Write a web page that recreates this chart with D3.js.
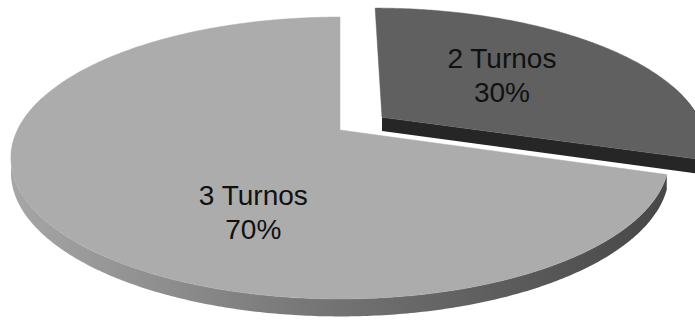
<!DOCTYPE html>
<html>
<head>
<meta charset="utf-8">
<script src="https://cdn.jsdelivr.net/npm/d3@7"></script>
<style>
  html, body { margin: 0; padding: 0; background: #ffffff; }
  svg { display: block; }
</style>
</head>
<body>
<svg id="chart" width="695" height="320"></svg>
<script>
// Shift distribution
const categories = ["2 Turnos", "3 Turnos"];
const values = [30, 70];
const percentLabels = ["30%", "70%"];

const width = 695, height = 320;

// 3D pie geometry (perspective view of a flat disc)
const cx = 340, cy = 130;     // screen position of the disc centre
const rx = 322.5;             // horizontal radius at the centre depth
const ry = 135.4;             // vertical foreshortened radius
const persp = 0.1986;         // perspective strength (front larger than back)
const depth = 14;             // disc thickness in px at centre depth
const explode = 0.164;        // pull-out distance of exploded slice (fraction of radius)

const topColors = ["#606060", "#acacac"];
const faceColors = ["#262626", "#5a5a5a"];
const explodeFlags = [true, false];
// label anchors: angle (deg, clockwise from 12 o'clock) and radius fraction inside each slice
const labelAnchors = [{ angle: 50, r: 0.54 }, { angle: 204, r: 0.59 }];

const svg = d3.select("#chart");
const defs = svg.append("defs");

const sideGradBig = defs.append("linearGradient")
  .attr("id", "sideBig").attr("gradientUnits", "userSpaceOnUse")
  .attr("x1", 10).attr("x2", 668).attr("y1", 0).attr("y2", 0);
sideGradBig.append("stop").attr("offset", 0).attr("stop-color", "#a6a6a6");
sideGradBig.append("stop").attr("offset", 0.5).attr("stop-color", "#727272");
sideGradBig.append("stop").attr("offset", 1).attr("stop-color", "#474747");

const sideGradSmall = defs.append("linearGradient")
  .attr("id", "sideSmall").attr("gradientUnits", "userSpaceOnUse")
  .attr("x1", 380).attr("x2", 720).attr("y1", 0).attr("y2", 0);
sideGradSmall.append("stop").attr("offset", 0).attr("stop-color", "#333333");
sideGradSmall.append("stop").attr("offset", 1).attr("stop-color", "#1e1e1e");
const sideFills = ["url(#sideSmall)", "url(#sideBig)"];

// project a point of the disc plane (u right, v toward viewer, z down through thickness)
function project(u, v, z) {
  const s = 1 / (1 - persp * v);
  return [cx + rx * u * s, cy + (ry * v + depth * z) * s];
}
// point on the slice at angle a (radians) and radius r, with slice offset
function pt(a, r, off, z) {
  return project(off[0] + r * Math.sin(a), off[1] - r * Math.cos(a), z);
}

const pie = d3.pie().sort(null).value(d => d)
  .startAngle(0).endAngle(2 * Math.PI);
const arcs = pie(values);

const line = d3.line();
const steps = a => Math.max(2, Math.ceil(Math.abs(a) / 0.01));

function arcPoints(a0, a1, off, z) {
  const n = steps(a1 - a0);
  return d3.range(n + 1).map(i => pt(a0 + (a1 - a0) * i / n, 1, off, z));
}

const slices = arcs.map((d, i) => {
  const mid = (d.startAngle + d.endAngle) / 2;
  const off = explodeFlags[i] ? [explode * Math.sin(mid), -explode * Math.cos(mid)] : [0, 0];
  return { d, i, off };
});

// draw back slice (exploded, upper right) first, then front slice
const order = slices.slice().sort((a, b) => a.off[1] - b.off[1]);

const g = svg.append("g");

order.forEach(({ d, i, off }) => {
  const a0 = d.startAngle, a1 = d.endAngle;
  const sg = g.append("g").attr("class", "slice");

  // radial side faces that turn toward the viewer
  const faces = [];
  if (-Math.sin(a0) > 1e-6) faces.push(a0);
  if (Math.sin(a1) > 1e-6) faces.push(a1);
  faces.forEach(a => {
    const pts = [pt(a, 0, off, 0), pt(a, 1, off, 0), pt(a, 1, off, 1), pt(a, 0, off, 1)];
    sg.append("path").attr("d", line(pts) + "Z")
      .attr("fill", faceColors[i]);
  });

  // outer curved side (front-facing part of the rim)
  const s0 = Math.max(a0, Math.PI / 2 - 0.25), s1 = Math.min(a1, 3 * Math.PI / 2 + 0.25);
  if (s1 > s0) {
    const topRim = arcPoints(s0, s1, off, 0);
    const botRim = arcPoints(s0, s1, off, 1).reverse();
    sg.append("path").attr("d", line(topRim.concat(botRim)) + "Z")
      .attr("fill", sideFills[i]);
  }

  // top surface
  const topPts = [pt(a0, 0, off, 0)].concat(arcPoints(a0, a1, off, 0));
  sg.append("path").attr("d", line(topPts) + "Z")
    .attr("fill", topColors[i])
    .attr("stroke", topColors[i]).attr("stroke-width", 0.5);
});

// data labels
slices.forEach(({ i, off }) => {
  const la = labelAnchors[i];
  const [lx, ly] = pt(la.angle * Math.PI / 180, la.r, off, 0);
  const t = svg.append("text")
    .attr("text-anchor", "middle")
    .attr("font-family", "'Liberation Sans', Arial, sans-serif")
    .attr("font-size", 28)
    .attr("fill", "#111111");
  t.append("tspan").attr("x", lx).attr("y", ly - 7).text(categories[i]);
  t.append("tspan").attr("x", lx).attr("y", ly + 27).text(percentLabels[i]);
});
</script>
</body>
</html>
